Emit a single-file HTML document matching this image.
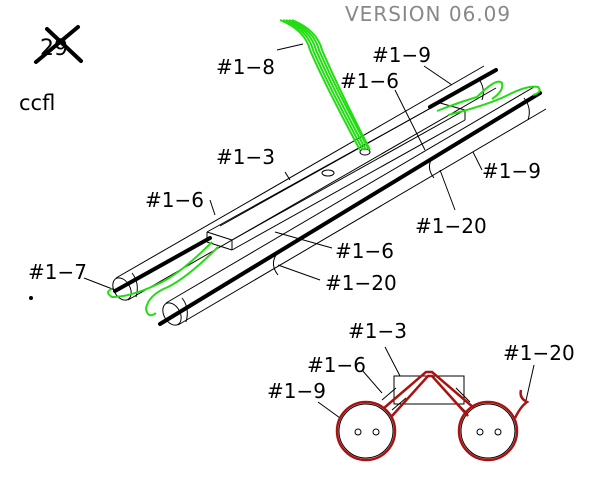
<!DOCTYPE html>
<html><head><meta charset="utf-8"><style>
html,body{margin:0;padding:0;background:#fff;}
svg{display:block}
text{font-family:"DejaVu Sans","Liberation Sans",sans-serif;}
</style></head><body>
<svg width="600" height="500" viewBox="0 0 600 500" xmlns="http://www.w3.org/2000/svg">
<rect width="600" height="500" fill="#fff"/>
<text x="345" y="21" font-size="20" fill="#888" letter-spacing="1">VERSION 06.09</text>
<text x="40" y="55" font-size="22" fill="#000" font-family="Liberation Serif">29</text>
<g stroke="#000" stroke-width="4" stroke-linecap="round"><line x1="36" y1="62" x2="78" y2="27"/><line x1="47" y1="29" x2="81" y2="61"/></g>
<text x="19" y="110" font-size="21" fill="#000" font-family="Liberation Sans">ccfl</text>
<circle cx="31" cy="298" r="2" fill="#000"/>

<g fill="none" stroke="#000" stroke-width="1">
<line x1="116" y1="278" x2="484" y2="66"/>
<line x1="128" y1="300" x2="496" y2="88"/>
<ellipse cx="122" cy="289" rx="8" ry="12" transform="rotate(-30 122 289)"/>
<path d="M132 273 q8 10 4 24"/>
<path d="M478 78 q8 10 4 22"/>
<line x1="166" y1="303" x2="534" y2="87"/>
<line x1="178" y1="325" x2="546" y2="109"/>
<ellipse cx="172" cy="314" rx="8" ry="12" transform="rotate(-30 172 314)"/>
<path d="M182 298 q8 10 4 24"/>
<path d="M524 98 q8 10 4 22"/>
<line x1="207" y1="232" x2="440" y2="103"/>
<line x1="232" y1="240" x2="465" y2="110"/>
<line x1="232" y1="250" x2="465" y2="120"/>
<line x1="207" y1="232" x2="207" y2="242"/>
<line x1="207" y1="242" x2="232" y2="250"/>
<line x1="207" y1="232" x2="232" y2="240"/>
<line x1="232" y1="240" x2="232" y2="250"/>
<line x1="440" y1="103" x2="465" y2="110"/>
<line x1="465" y1="110" x2="465" y2="120"/>
<line x1="220" y1="226" x2="445" y2="100"/>
<ellipse cx="328" cy="173" rx="6" ry="3"/>
<ellipse cx="365" cy="152" rx="5" ry="3"/>
<path d="M276 255 q-6 10 2 20"/><path d="M432 158 q-6 10 2 20"/>
<line x1="277" y1="50" x2="303" y2="44"/>
<line x1="424" y1="66" x2="452" y2="85"/>
<line x1="395" y1="90" x2="425" y2="150"/>
<line x1="285" y1="172" x2="290" y2="180"/>
<line x1="210" y1="200" x2="215" y2="215"/>
<line x1="473" y1="152" x2="482" y2="170"/>
<line x1="440" y1="170" x2="455" y2="210"/>
<line x1="275" y1="232" x2="332" y2="248"/>
<line x1="278" y1="265" x2="320" y2="280"/>
<line x1="84" y1="278" x2="115" y2="290"/>
</g>
<g stroke="#000" stroke-width="4" stroke-linecap="round">
<line x1="115" y1="291" x2="210" y2="238"/>
<line x1="430" y1="107" x2="496" y2="70"/>
<line x1="160" y1="324" x2="540" y2="93"/>
</g>
<g fill="none" stroke="#22dd11" stroke-width="2">
<path d="M280 20 q25 10 30 30 q15 35 50 100"/>
<path d="M283 20 q25 10 30 30 q15 35 50 100"/>
<path d="M286 20 q25 10 30 30 q15 35 50 100"/>
<path d="M289 20 q25 10 30 30 q15 35 50 100"/>
<path d="M292 20 q25 10 30 30 q15 35 48 100"/>
<path d="M212 242 q-30 30 -50 40 q-30 15 -50 15 q-8 -5 0 -8"/>
<path d="M218 247 q-30 30 -50 40 q-20 8 -22 22 q2 10 10 4"/>
<path d="M437 111 q20 -8 40 -14 q20 -20 25 -14 q2 8 -10 16"/>
<path d="M448 115 q40 -10 60 -20 q20 -10 30 -8 q5 5 -5 8"/>
</g>
<g font-size="20" fill="#000">
<text x="216" y="74">#1−8</text>
<text x="372" y="62">#1−9</text>
<text x="340" y="88">#1−6</text>
<text x="216" y="164">#1−3</text>
<text x="145" y="207">#1−6</text>
<text x="482" y="178">#1−9</text>
<text x="415" y="233">#1−20</text>
<text x="335" y="258">#1−6</text>
<text x="325" y="290">#1−20</text>
<text x="28" y="279">#1−7</text>
<text x="348" y="338">#1−3</text>
<text x="307" y="372">#1−6</text>
<text x="267" y="398">#1−9</text>
<text x="503" y="360">#1−20</text>
</g>
<g fill="none" stroke="#000" stroke-width="1">
<rect x="394" y="376" width="70" height="28"/>
<circle cx="366" cy="431" r="27"/>
<circle cx="488" cy="431" r="27"/>
<circle cx="358" cy="432" r="3"/><circle cx="376" cy="432" r="3"/>
<circle cx="480" cy="432" r="3"/><circle cx="498" cy="432" r="3"/>
<line x1="385" y1="347" x2="400" y2="376"/>
<line x1="362" y1="370" x2="382" y2="393"/>
<line x1="318" y1="402" x2="340" y2="418"/>
<line x1="534" y1="365" x2="525" y2="405"/>
<path d="M382 400 l14 -12 M392 410 l14 -12 M456 388 l14 14 M452 398 l14 14"/>
</g>
<g fill="none" stroke="#aa1111" stroke-width="2.5">
<circle cx="366" cy="431" r="29"/>
<circle cx="488" cy="431" r="29"/>
<path d="M384 408 l42 -36 h6 l42 36"/>
<path d="M392 416 l36 -40 h4 l36 40"/>
<path d="M515 418 q6 -12 12 -16 q-8 -4 -6 -12"/>
</g>
</svg>
</body></html>
